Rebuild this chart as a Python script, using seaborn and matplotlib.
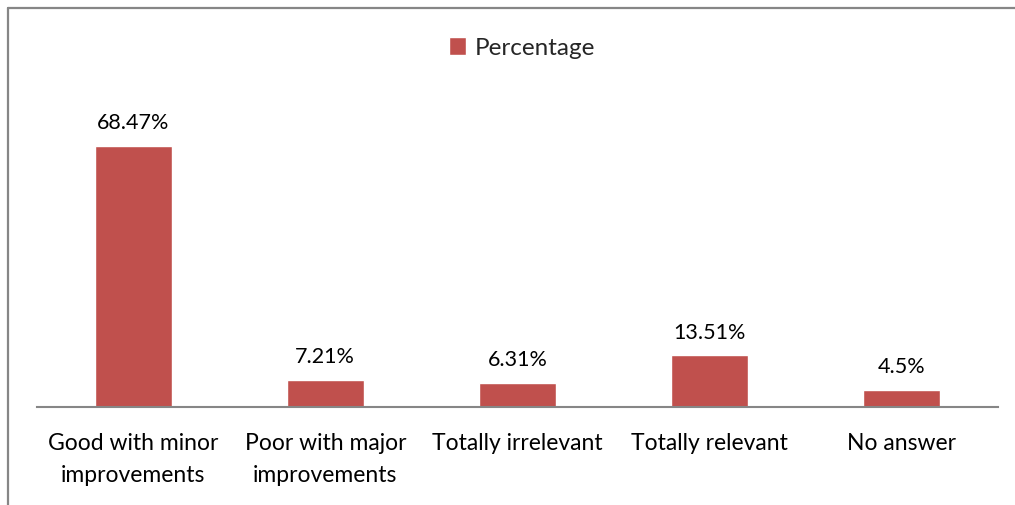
import matplotlib
matplotlib.use("Agg")
import matplotlib.pyplot as plt
from matplotlib.lines import Line2D
from matplotlib.patches import Patch
import seaborn as sns
import pandas as pd

categories = ["Good with minor\nimprovements", "Poor with major\nimprovements",
              "Totally irrelevant", "Totally relevant", "No answer"]
values = [68.47, 7.21, 6.31, 13.51, 4.5]
value_labels = ["68.47%", "7.21%", "6.31%", "13.51%", "4.5%"]
series_name = "Percentage"

bar_color = "#C0504D"
W, H = 1015, 505

sns.set_theme(style="white")
plt.rcParams["font.family"] = ["Lato", "DejaVu Sans"]

df = pd.DataFrame({"category": categories, "value": values})

fig = plt.figure(figsize=(W / 100, H / 100), dpi=100)
ax = fig.add_axes([37 / W, 1 - 407 / H, (998 - 37) / W, (407 - 102) / H])

sns.barplot(data=df, x="category", y="value", color=bar_color, width=0.4,
            saturation=1, ax=ax)

ax.set_ylim(0, 80)
ax.set_xlim(-0.5, len(categories) - 0.5)
ax.bar_label(ax.containers[0], labels=value_labels, padding=9, fontsize=15.5, color="#000000")

ax.set_xlabel("")
ax.set_ylabel("")
ax.set_yticks([])
ax.tick_params(axis="x", labelsize=16.5, colors="#000000", pad=19, length=0)
for lbl in ax.get_xticklabels():
    lbl.set_linespacing(1.65)
for s in ["left", "right", "top"]:
    ax.spines[s].set_visible(False)
ax.spines["bottom"].set_color("#868686")
ax.spines["bottom"].set_linewidth(1.5)

# chart frame (top and left edges visible)
fig.add_artist(Line2D([8 / W, 1.0], [1 - 8 / H, 1 - 8 / H], transform=fig.transFigure,
                      color="#868686", linewidth=1.6))
fig.add_artist(Line2D([8 / W, 8 / W], [0.0, 1 - 8 / H], transform=fig.transFigure,
                      color="#868686", linewidth=1.6))

fig.legend(handles=[Patch(facecolor=bar_color, label=series_name)],
           loc="center", bbox_to_anchor=(522 / W, 1 - 48 / H), frameon=False,
           fontsize=17.5, handlelength=0.7, handleheight=0.7, handletextpad=0.35)

fig.savefig("out.png", dpi=100, facecolor="white")
